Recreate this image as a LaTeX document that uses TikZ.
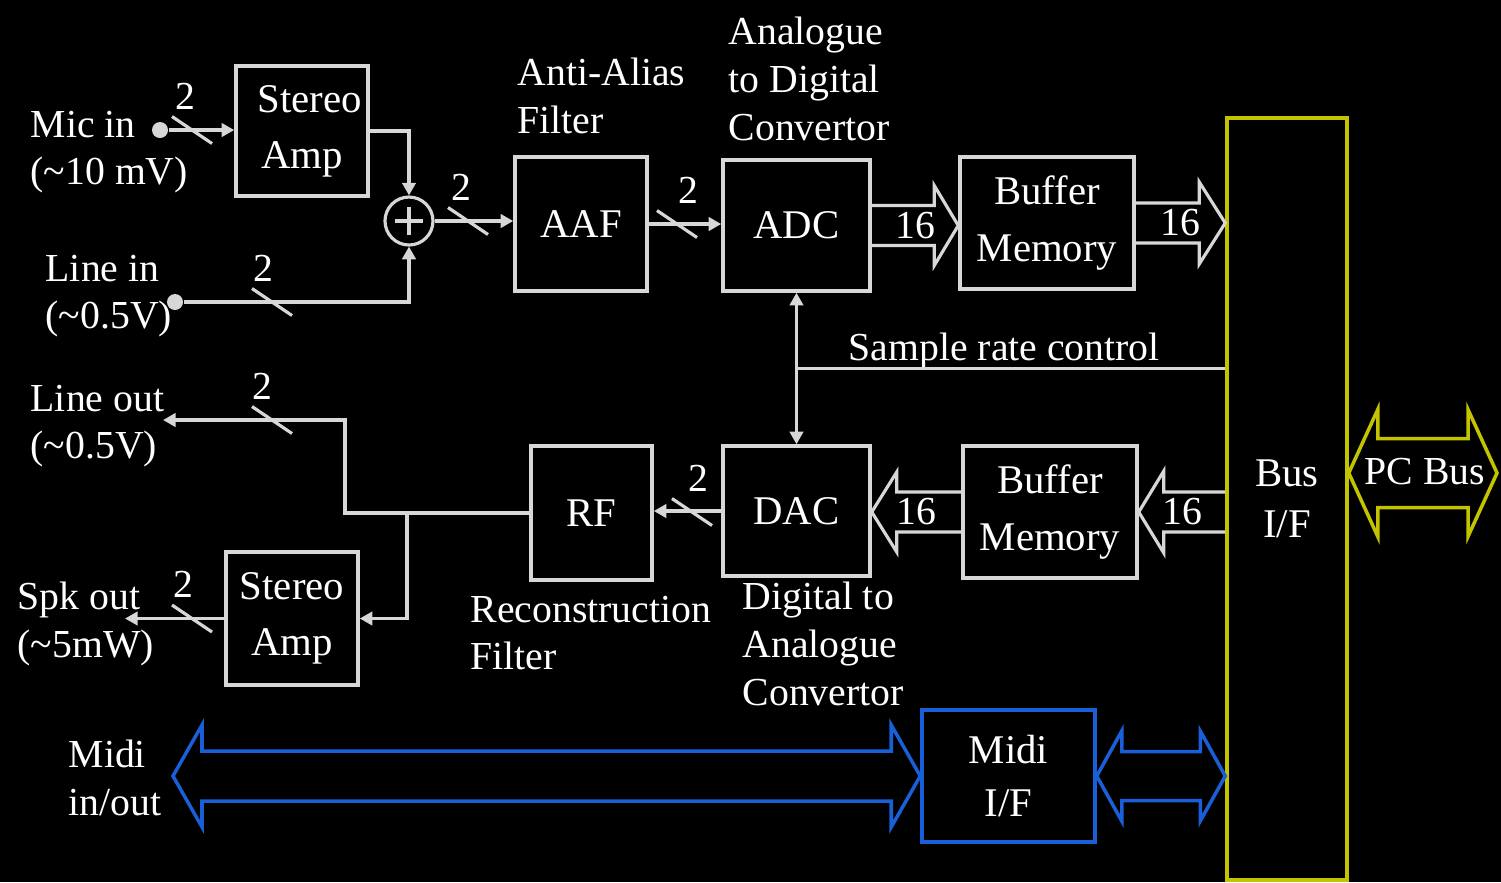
\documentclass[tikz,border=0pt]{standalone}
\usepackage{fontspec}
\setmainfont{Liberation Serif}
\usetikzlibrary{arrows.meta, positioning, calc}
\definecolor{wiregray}{RGB}{215,215,215}
\definecolor{busyellow}{RGB}{195,195,0}
\definecolor{midiblue}{RGB}{25,95,215}
\newcommand{\lblfont}{\fontsize{11.3}{13.6}\selectfont}
\newcommand{\boxfont}{\fontsize{11.6}{16}\selectfont}

% slash with bus width: name, point on wire, x shift of count, count
\newcommand{\buswidth}[4]{%
  \draw[wire] ($#2+(-0.2,-0.135)$) -- ($#2+(0.2,0.135)$);
  \node[lbl] (#1) at ($#2+(#3,-0.34)$) {#4};}
% wide arrow: style, from, to, shaft half, head half, head length
\newcommand{\fatarrow}[6]{%
  \draw[#1] let \p1=(#2), \p2=(#3), \n1={2*(\x2>\x1)-1} in
    (\x1,{\y1+#4}) -- ({\x2-\n1*#6},{\y1+#4}) -- ({\x2-\n1*#6},{\y1+#5}) -- (\x2,\y1)
    -- ({\x2-\n1*#6},{\y1-#5}) -- ({\x2-\n1*#6},{\y1-#4}) -- (\x1,{\y1-#4});}
% wide double arrow, left to right
\newcommand{\dblarrow}[6]{%
  \draw[#1] let \p1=(#2), \p2=(#3) in
    (\x1,\y1) -- ({\x1+#6},{\y1+#5}) -- ({\x1+#6},{\y1+#4}) -- ({\x2-#6},{\y1+#4})
    -- ({\x2-#6},{\y1+#5}) -- (\x2,\y1) -- ({\x2-#6},{\y1-#5}) -- ({\x2-#6},{\y1-#4})
    -- ({\x1+#6},{\y1-#4}) -- ({\x1+#6},{\y1-#5}) -- cycle;}

\begin{document}
\begin{tikzpicture}[
    x=1cm, y=-1cm,
    >={Triangle[length=3.6pt, width=3.8pt]},
    box/.style={rectangle, draw=wiregray, line width=1pt, text=white,
                align=center, inner sep=0pt, font=\boxfont},
    busbox/.style={box, draw=busyellow, font=\fontsize{11.6}{14.5}\selectfont},
    midibox/.style={box, draw=midiblue, font=\fontsize{11.6}{15}\selectfont},
    lbl/.style={text=white, align=left, inner sep=0pt, font=\lblfont},
    wire/.style={draw=wiregray, line width=0.9pt},
    fat/.style={wire, line join=miter},
    midiarrow/.style={draw=midiblue, line width=1pt},
    pcarrow/.style={draw=busyellow, line width=1pt},
    dot/.style={circle, fill=wiregray, inner sep=0pt, minimum size=0.16cm},
    sumjunction/.style={circle, draw=wiregray, line width=0.9pt, minimum size=0.48cm, inner sep=0pt}
  ]
  \fill[black] (0,0) rectangle (15.01,8.82);

  % blocks
  \node[box, minimum width=1.32cm, minimum height=1.30cm] (ampin) at (3.02,1.31) {\hspace{0.15cm}Stereo\\Amp};
  \node[sumjunction] (sum) at (4.09,2.21) {};
  \draw[wire] ($(sum)+(-0.14,0)$) -- ($(sum)+(0.14,0)$);
  \draw[wire] ($(sum)+(0,-0.14)$) -- ($(sum)+(0,0.14)$);
  \node[box, minimum width=1.32cm, minimum height=1.34cm] (aaf) at (5.81,2.24) {AAF};
  \node[box, minimum width=1.47cm, minimum height=1.31cm] (adc) at (7.965,2.255) {ADC};
  \node[box, minimum width=1.74cm, minimum height=1.32cm] (bufa) at (10.47,2.23) {Buffer\\Memory};
  \node[busbox, minimum width=1.20cm, minimum height=7.62cm] (bus) at (12.87,4.99) {Bus\\I/F};
  \node[box, minimum width=1.47cm, minimum height=1.30cm] (dac) at (7.965,5.11) {DAC};
  \node[box, minimum width=1.74cm, minimum height=1.32cm] (bufb) at (10.50,5.12) {Buffer\\Memory};
  \node[box, minimum width=1.21cm, minimum height=1.34cm] (rf) at (5.915,5.13) {RF};
  \node[box, minimum width=1.32cm, minimum height=1.33cm] (ampout) at (2.92,6.185) {Stereo\\Amp};
  \node[midibox, minimum width=1.73cm, minimum height=1.32cm] (midi) at (10.085,7.76) {Midi\\I/F};

  % labels
  \node[lbl, anchor=west] (micl) at (0.30,1.52) {Mic in\\(\textasciitilde10 mV)};
  \node[lbl, anchor=west] (linel) at (0.45,2.96) {Line in\\(\textasciitilde0.5V)};
  \node[lbl, anchor=west] (lineoutl) at (0.30,4.26) {Line out\\(\textasciitilde0.5V)};
  \node[lbl, anchor=west] (spkl) at (0.17,6.24) {Spk out\\(\textasciitilde5mW)};
  \node[lbl, anchor=west] (midil) at (0.68,7.78) {Midi\\in/out};
  \node[lbl, anchor=west] (aafl) at (5.17,0.96) {Anti-Alias\\Filter};
  \node[lbl, anchor=west] (adcl) at (7.28,0.79) {Analogue\\to Digital\\Convertor};
  \node[lbl, anchor=west] (srcl) at (8.48,3.51) {Sample rate control};
  \node[lbl, anchor=west] (rfl) at (4.70,6.33) {Reconstruction\\Filter};
  \node[lbl, anchor=west] (dacl) at (7.42,6.44) {Digital to\\Analogue\\Convertor};

  % record path
  \node[dot] (micin) at (1.60,1.30) {};
  \node[dot] (linein) at (1.75,3.02) {};
  \draw[wire, ->] (micin) -- (micin -| ampin.west);
  \buswidth{w1}{(1.92,1.30)}{-0.07}{2}
  \draw[wire, ->] (ampin.east) -| (sum.north);
  \draw[wire, ->] (linein) -| (sum.south);
  \buswidth{w2}{(2.72,3.02)}{-0.09}{2}
  \draw[wire, ->] (sum.east) -- (sum.east -| aaf.west);
  \buswidth{w3}{(4.68,2.21)}{-0.07}{2}
  \draw[wire, ->] (aaf.east) -- (aaf.east -| adc.west);
  \buswidth{w4}{(6.77,2.24)}{0.11}{2}
  \fatarrow{fat}{adc.east}{bufa.west |- adc.east}{0.2cm}{0.4cm}{0.24cm}
  \node[lbl] (n1) at ($(adc.east)!0.5!(bufa.west |- adc.east)$) {16};
  \fatarrow{fat}{bufa.east}{bus.west |- bufa.east}{0.2cm}{0.41cm}{0.26cm}
  \node[lbl] (n2) at ($(bufa.east)!0.5!(bus.west |- bufa.east)$) {16};

  % sample rate control
  \draw[wire, <->] (adc.south) -- (dac.north);
  \coordinate (src) at ($(adc.south)!0.5!(dac.north)$);
  \draw[wire] (src) -- (src -| bus.west);

  % playback path
  \fatarrow{fat}{bus.west |- bufb.west}{bufb.east}{0.2cm}{0.41cm}{0.25cm}
  \node[lbl] (n3) at ($(bufb.east)!0.5!(bus.west |- bufb.east)$) {16};
  \fatarrow{fat}{bufb.west}{dac.east |- bufb.west}{0.2cm}{0.4cm}{0.25cm}
  \node[lbl] (n4) at ($(bufb.west)!0.5!(dac.east |- bufb.west)$) {16};
  \draw[wire, ->] (dac.west) -- (dac.west -| rf.east);
  \buswidth{w5}{(6.92,5.12)}{0.06}{2}
  \coordinate (rfbend) at (3.45,5.13);
  \coordinate (lineout) at (1.63,4.20);
  \draw[wire, ->] (rf.west) -- (rfbend) |- (lineout);
  \buswidth{w6}{(2.72,4.20)}{-0.10}{2}
  \coordinate (ampsplit) at (4.07,5.13);
  \draw[wire, ->] (ampsplit) |- (ampout.east);
  \coordinate (spkout) at (1.25,6.185);
  \draw[wire, ->] (ampout.west) -- (spkout);
  \buswidth{w7}{(1.92,6.185)}{-0.09}{2}

  % midi and pc bus
  \coordinate (midiext) at (1.73,7.76);
  \dblarrow{midiarrow}{midiext}{midi.west}{0.25cm}{0.51cm}{0.29cm}
  \dblarrow{midiarrow}{midi.east}{bus.west |- midi.east}{0.245cm}{0.45cm}{0.25cm}
  \coordinate (pcext) at (14.97,4.73);
  \dblarrow{pcarrow}{bus.east |- pcext}{pcext}{0.345cm}{0.635cm}{0.29cm}
  \node[lbl] (pcbus) at (14.25,4.72) {PC Bus};
\end{tikzpicture}
\end{document}
